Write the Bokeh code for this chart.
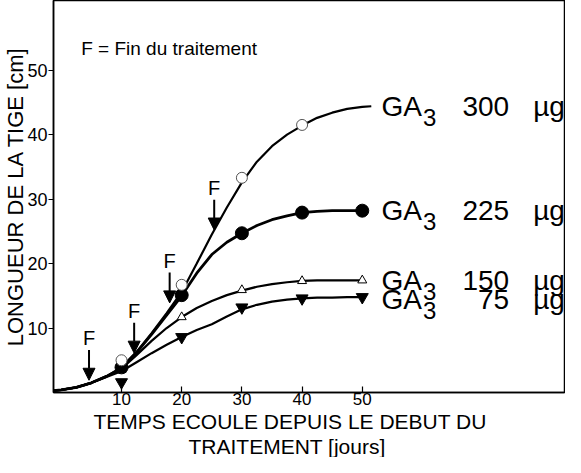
from bokeh.plotting import figure
from bokeh.models import Range1d, FixedTicker, Label, Arrow, NormalHead, Title
from bokeh.embed import file_html
from bokeh.resources import INLINE

# ---- data ----
days = [10, 20, 30, 40, 50]

# traced smooth curves (days, stem length cm)
curve_x = [-1.3, 0, 2.5, 5, 7.5, 10, 12.5, 15, 17.5, 20, 22.5, 25, 27.5, 30,
           32.5, 35, 37.5, 40, 42.5, 45, 47.5, 50]
curve_300_x = curve_x + [51.5]
curve_300 = [0.3, 0.4, 0.8, 1.5, 2.5, 3.9, 6.3, 9.2, 12.3, 15.6, 20.0, 24.5, 28.7, 32.6,
             35.8, 38.2, 40.0, 41.4, 42.6, 43.4, 44.0, 44.3, 44.4]
curve_225 = [0.3, 0.4, 0.8, 1.5, 2.5, 3.8, 6.2, 9.0, 12.0, 15.0, 18.5, 21.4, 23.3, 24.7,
             25.9, 26.8, 27.4, 27.9, 28.1, 28.2, 28.2, 28.2]
curve_150 = [0.3, 0.4, 0.8, 1.5, 2.5, 3.7, 5.8, 8.0, 10.0, 11.7, 13.1, 14.2, 15.1, 15.8,
             16.4, 16.8, 17.1, 17.3, 17.4, 17.4, 17.4, 17.4]
curve_75 = [0.3, 0.4, 0.8, 1.5, 2.4, 3.3, 4.7, 6.1, 7.4, 8.6, 9.7, 10.6, 11.8, 12.9,
            13.6, 14.1, 14.4, 14.6, 14.7, 14.7, 14.8, 14.8]

# measured points
pts_300_x = [10, 20, 30, 40]
pts_300 = [5.0, 16.7, 33.3, 41.5]
pts_225 = [3.9, 15.1, 24.7, 27.9, 28.2]
pts_150 = [3.5, 11.7, 15.9, 17.3, 17.4]
pts_75 = [1.6, 8.6, 13.2, 14.6, 14.8]

# end of treatment (F) arrows: day and curve height at the tip
f_day = [4.6, 12.1, 18.0, 25.4]
f_tip = [1.9, 6.1, 13.9, 25.2]

doses = ["300", "225", "150", "75"]
dose_level = [44.3, 28.2, 17.4, 14.4]

x_ticks = [10, 20, 30, 40, 50]
y_ticks = [10, 20, 30, 40, 50]

x_title_1 = "TEMPS ECOULE DEPUIS LE DEBUT DU"
x_title_2 = "TRAITEMENT  [jours]"

FONT = "Liberation Sans"

p = figure(width=565, height=457, output_backend="svg", toolbar_location=None,
           x_range=Range1d(-1.3, 83.6), y_range=Range1d(0, 60.8),
           min_border_left=46, min_border_right=1, min_border_top=0,
           min_border_bottom=65)
p.background_fill_color = "white"
p.border_fill_color = "white"
p.outline_line_color = "black"
p.outline_line_width = 1.5
p.xgrid.visible = False
p.ygrid.visible = False

for ax in (p.xaxis[0], p.yaxis[0]):
    ax.axis_line_color = "black"
    ax.axis_line_width = 1.5
    ax.major_tick_line_color = "black"
    ax.major_tick_line_width = 1.2
    ax.minor_tick_line_color = None
    ax.major_label_text_font = FONT
    ax.major_label_text_color = "black"

p.xaxis.ticker = FixedTicker(ticks=x_ticks)
p.xaxis.major_tick_in = 6
p.xaxis.major_tick_out = 0
p.xaxis.major_label_standoff = 0
p.xaxis.major_label_text_font_size = "17px"

p.yaxis.ticker = FixedTicker(ticks=y_ticks)
p.yaxis.major_tick_in = 0
p.yaxis.major_tick_out = 5
p.yaxis.major_label_standoff = 1
p.yaxis.major_label_text_font_size = "18px"
p.yaxis.axis_label = "LONGUEUR DE LA TIGE [cm]"
p.yaxis.axis_label_text_font = FONT
p.yaxis.axis_label_text_font_size = "22px"
p.yaxis.axis_label_text_font_style = "normal"
p.yaxis.axis_label_text_color = "black"
p.yaxis.axis_label_standoff = -4

# x-axis title, two lines under the tick labels
p.add_layout(Title(text=x_title_1, align="left", offset=40,
                   text_font=FONT, text_font_size="21px", text_font_style="normal",
                   text_color="black", text_line_height=0.9, standoff=0), "below")
p.add_layout(Title(text=x_title_2, align="left", offset=135,
                   text_font=FONT, text_font_size="21px", text_font_style="normal",
                   text_color="black", text_line_height=0.9, standoff=0), "below")

# curves
p.line(curve_x, curve_75, line_color="black", line_width=2.2)
p.line(curve_x, curve_150, line_color="black", line_width=2.2)
p.line(curve_x, curve_225, line_color="black", line_width=2.8)
p.line(curve_300_x, curve_300, line_color="black", line_width=2.2)

# markers
p.scatter(days, pts_75, marker="inverted_triangle", size=12, fill_color="black", line_color="black")
p.scatter(days, pts_150, marker="triangle", size=9, fill_color="white", line_color="black", line_width=1)
p.scatter(days, pts_225, marker="circle", size=13, fill_color="black", line_color="black")
p.scatter(pts_300_x, pts_300, marker="circle", size=11, fill_color="white", line_color="#555555", line_width=1)

# F arrows
shaft = 4.7
for d, t in zip(f_day, f_tip):
    p.add_layout(Arrow(end=NormalHead(size=12, fill_color="black", line_color="black"),
                       x_start=d, y_start=t + shaft, x_end=d, y_end=t,
                       line_color="black", line_width=2))
    p.add_layout(Label(x=d, y=t + shaft, y_offset=1, text="F", text_align="center",
                       text_baseline="bottom", text_font=FONT, text_font_size="20px",
                       text_color="black"))

p.add_layout(Label(x=3.3, y=53.4, text="F = Fin du traitement", text_baseline="middle",
                   text_font=FONT, text_font_size="19px", text_color="black"))

# dose labels
for d, lvl in zip(doses, dose_level):
    p.add_layout(Label(x=53.2, y=lvl, text="GA", text_baseline="middle",
                       text_font=FONT, text_font_size="28px", text_color="black"))
    p.add_layout(Label(x=60.1, y=lvl, y_offset=-11, text="3", text_baseline="middle",
                       text_font=FONT, text_font_size="24px", text_color="black"))
    p.add_layout(Label(x=74.4, y=lvl, text=d, text_align="right", text_baseline="middle",
                       text_font=FONT, text_font_size="28px", text_color="black"))
    p.add_layout(Label(x=78.4, y=lvl, text="µg", text_baseline="middle",
                       text_font=FONT, text_font_size="28px", text_color="black"))

open("out.html", "w").write(file_html(p, INLINE))
